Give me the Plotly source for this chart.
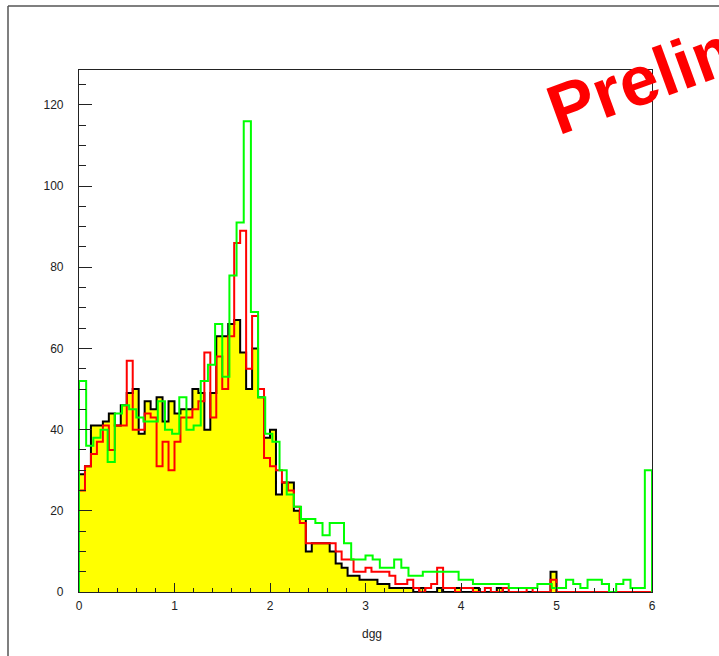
import numpy as np
import plotly.graph_objects as go

# ---------------- data ----------------
X_MIN, X_MAX = 0.0, 6.0
Y_MAX = 128.6

# black histogram (yellow filled), 96 bins on [0, 6]
black_counts = [29, 31, 41, 41, 42, 44, 41, 46, 49, 50,
                39, 47, 45, 48, 42, 47, 44, 45, 45, 50,
                49, 40, 49, 63, 63, 66, 67, 59, 50, 60,
                48, 38, 40, 24, 27, 27, 20, 18, 10, 12,
                12, 12, 10, 7, 6, 4, 4, 3, 3, 3,
                2, 2, 1, 1, 1, 1, 0, 1, 0, 0,
                1, 0, 0, 1, 0, 0, 1, 0, 0, 0,
                1, 0, 0, 0, 0, 0, 0, 0, 0, 5,
                0, 0, 0, 0, 0, 0, 0, 0, 0, 0,
                0, 0, 0, 0, 0, 0]

# red histogram, 96 bins on [0, 6]
red_counts = [25, 31, 34, 37, 41, 35, 41, 41, 57, 40,
              40, 44, 43, 31, 37, 30, 37, 43, 43, 45,
              47, 59, 43, 58, 50, 63, 86, 89, 55, 68,
              50, 33, 31, 30, 27, 25, 21, 17, 12, 12,
              12, 12, 12, 10, 8, 8, 5, 5, 6, 5,
              5, 5, 4, 2, 2, 3, 1, 0, 1, 2,
              6, 1, 1, 0, 1, 1, 0, 0, 1, 0,
              0, 1, 0, 0, 0, 1, 0, 0, 0, 3,
              0, 0, 0, 0, 0, 0, 0, 0, 0, 0,
              0, 0, 0, 0, 0, 0]

# green histogram, 80 bins on [0, 6]
green_counts = [52, 36, 38, 40, 32, 44, 46, 45, 43, 42,
                42, 47, 40, 39, 48, 40, 41, 52, 56, 66,
                53, 78, 91, 116, 69, 48, 39, 37, 30, 24,
                21, 18, 18, 17, 14, 17, 17, 12, 8, 8,
                9, 8, 6, 6, 8, 6, 4, 4, 5, 5,
                5, 5, 5, 3, 3, 2, 2, 2, 2, 2,
                1, 1, 1, 1, 2, 2, 1, 1, 3, 2,
                1, 3, 3, 2, 0, 2, 3, 1, 1, 30]

x_ticks = [0, 1, 2, 3, 4, 5, 6]
y_ticks = [0, 20, 40, 60, 80, 100, 120]
x_title = "dgg"
watermark = "Preliminary"


def step_xy(counts, lo, hi):
    n = len(counts)
    w = (hi - lo) / n
    xs = [lo] + [lo + i * w for i in range(n)] + [hi, hi]
    ys = [0] + list(counts) + [counts[-1], 0]
    return xs, ys


fig = go.Figure()

bx, by = step_xy(black_counts, X_MIN, X_MAX)
fig.add_trace(go.Scatter(x=bx, y=by, mode="lines", line_shape="hv",
                         line=dict(color="black", width=2),
                         fill="tozeroy", fillcolor="#ffff00",
                         hoverinfo="skip", showlegend=False))

rx, ry = step_xy(red_counts, X_MIN, X_MAX)
fig.add_trace(go.Scatter(x=rx, y=ry, mode="lines", line_shape="hv",
                         line=dict(color="#ff0000", width=2),
                         hoverinfo="skip", showlegend=False))

gx, gy = step_xy(green_counts, X_MIN, X_MAX)
fig.add_trace(go.Scatter(x=gx, y=gy, mode="lines", line_shape="hv",
                         line=dict(color="#00ff00", width=2),
                         hoverinfo="skip", showlegend=False))

W, H = 719, 656
ML, MR, MT, MB = 79, 67, 70, 64
pw, ph = W - ML - MR, H - MT - MB


def px_to_paper(px, py):
    return (px - ML) / pw, (H - MB - py) / ph


tickfont = dict(family="Liberation Sans, Arial, sans-serif", size=12, color="#222")

fig.update_layout(
    width=W, height=H,
    margin=dict(l=ML, r=MR, t=MT, b=MB, pad=0),
    paper_bgcolor="white", plot_bgcolor="white",
    showlegend=False, hovermode=False,
    xaxis=dict(range=[X_MIN, X_MAX], tickvals=x_ticks, ticks="inside", ticklen=9,
               tickwidth=1, tickcolor="#222", showline=True, linecolor="#222",
               linewidth=1.2, mirror=True, showgrid=False, zeroline=False,
               tickfont=tickfont, ticklabelstandoff=2,
               minor=dict(dtick=0.2, ticks="inside", ticklen=4, tickwidth=1,
                          tickcolor="#222", showgrid=False)),
    yaxis=dict(range=[0, Y_MAX], tickvals=y_ticks, ticks="inside", ticklen=13,
               tickwidth=1, tickcolor="#222", showline=True, linecolor="#222",
               linewidth=1.2, mirror=True, showgrid=False, zeroline=False,
               tickfont=tickfont, ticklabelstandoff=12,
               minor=dict(dtick=5, ticks="inside", ticklen=7, tickwidth=1,
                          tickcolor="#222", showgrid=False)),
)

# canvas border (left and top)
lx, _ = px_to_paper(8, 0)
_, ty = px_to_paper(0, 6)
_, by0 = px_to_paper(0, H + 5)
rx1, _ = px_to_paper(W + 5, 0)
fig.add_shape(type="line", xref="paper", yref="paper", x0=lx, x1=lx, y0=by0, y1=ty,
              line=dict(color="#555", width=1.5))
fig.add_shape(type="line", xref="paper", yref="paper", x0=lx, x1=rx1, y0=ty, y1=ty,
              line=dict(color="#555", width=1.5))

# axis title
tx, tyy = px_to_paper(372, 634)
fig.add_annotation(text=x_title, xref="paper", yref="paper", x=tx, y=tyy,
                   showarrow=False, xanchor="center", yanchor="middle",
                   font=dict(family="Liberation Sans, Arial, sans-serif", size=12, color="#222"))

# watermark
wx, wy = px_to_paper(729, 48.5)
fig.add_annotation(text="<b>%s</b>" % watermark, xref="paper", yref="paper", x=wx, y=wy,
                   showarrow=False, xanchor="center", yanchor="middle", textangle=-20,
                   font=dict(family="Liberation Sans, Arial, sans-serif", size=70, color="#ff0000"))

fig.write_html("out.html", config={"displayModeBar": False})
